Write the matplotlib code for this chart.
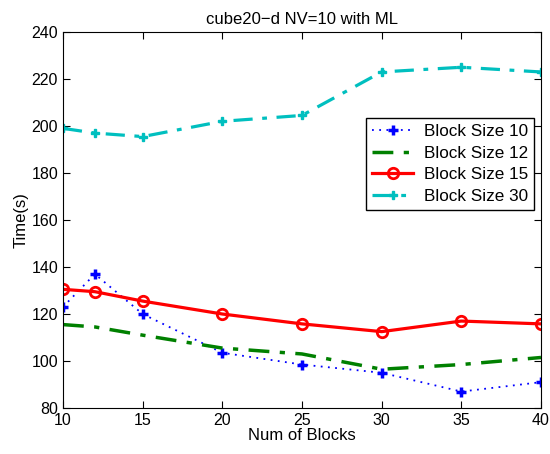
import matplotlib
matplotlib.use('Agg')
import matplotlib.pyplot as plt

plt.rcParams['font.family'] = ['Liberation Sans', 'DejaVu Sans']

blocks = [10, 12, 15, 20, 25, 30, 35, 40]
bs10 = [123, 137, 120, 103.5, 98.5, 95, 87, 91]
bs12 = [115.5, 114.5, 111, 105.5, 103, 96.5, 98.5, 101.5]
bs15 = [130.5, 129.5, 125.5, 120, 115.8, 112.5, 117, 115.8]
bs30 = [199, 197, 195.5, 202, 204.5, 223, 225, 223]

fig = plt.figure(figsize=(5.5, 4.54), dpi=100)
ax = fig.add_axes([0.1145, 0.1013, 0.8691, 0.8282])

ax.plot(blocks, bs10, color='blue', lw=1.3, ls=(0, (1, 3)), marker='+', ms=7, mew=2.5, label='Block Size 10')
ax.plot(blocks, bs12, color='green', lw=2.5, ls=(0, (6, 3, 1.5, 3)), label='Block Size 12')
ax.plot(blocks, bs15, '-', color='red', lw=2.3, marker='o', ms=7.5, mfc='none', mew=2, label='Block Size 15')
ax.plot(blocks, bs30, color='#00bfbf', lw=2.3, ls=(0, (6, 3, 1.5, 3)), marker='P', ms=6, label='Block Size 30')

ax.set_xlim(10, 40)
ax.set_ylim(80, 240)
ax.set_xticks([10, 15, 20, 25, 30, 35, 40])
ax.set_yticks(range(80, 241, 20))
ax.tick_params(direction='in', top=True, right=True, labelsize=11.5, length=5)
ax.set_xlabel('Num of Blocks', fontsize=12, labelpad=0)
ax.set_ylabel('Time(s)', fontsize=12, labelpad=2)
ax.set_title('cube20\u2212d NV=10 with ML', fontsize=12, pad=6)

leg = ax.legend(loc='upper right', bbox_to_anchor=(0.985, 0.771), fontsize=12.3,
                fancybox=False, framealpha=1, edgecolor='black', borderpad=0.35,
                labelspacing=0.38, handlelength=2.4, handletextpad=0.6, borderaxespad=0)
leg.get_frame().set_linewidth(1)

fig.savefig('out.png', dpi=100)
